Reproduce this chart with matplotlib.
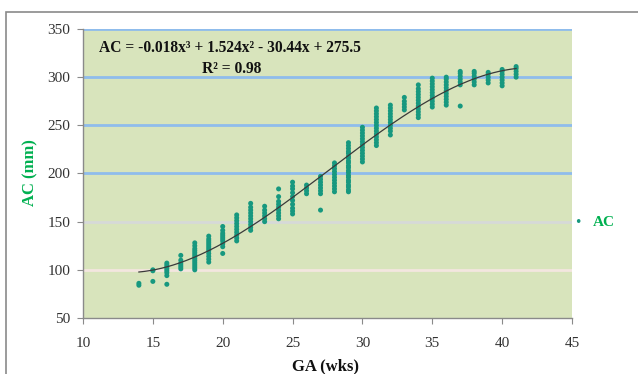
import matplotlib
matplotlib.use("Agg")
import matplotlib.pyplot as plt
from matplotlib.patches import Rectangle
import numpy as np

# ---- data ----
ac_by_week = {
    14: [84, 86],
    15: [88, 99, 100],
    16: [85, 94, 97, 99, 101, 103, 105, 107],
    17: [101, 103, 105, 107, 110, 115],
    18: [100, 102, 104, 106, 108, 110, 112, 114, 116, 118, 120, 122, 125, 128],
    19: [108, 111, 114, 117, 120, 122, 124, 126, 128, 130, 132, 135],
    20: [117, 124, 127, 130, 132, 134, 136, 138, 141, 145],
    21: [130, 133, 136, 139, 142, 145, 148, 151, 154, 157],
    22: [141, 144, 147, 150, 153, 156, 159, 162, 165, 169],
    23: [150, 153, 156, 159, 162, 166],
    24: [153, 156, 159, 162, 165, 168, 171, 176, 184],
    25: [158, 161, 164, 168, 172, 176, 180, 184, 187, 191],
    26: [179, 182, 185, 188],
    27: [162, 179, 182, 185, 188, 191, 194, 197],
    28: [181, 184, 187, 190, 193, 196, 199, 202, 205, 208, 211],
    29: [181, 183, 186, 188, 191, 193, 196, 198, 201, 203, 206, 208, 211,
         213, 216, 218, 221, 223, 226, 229, 232],
    30: [212, 215, 218, 221, 224, 227, 230, 233, 236, 239, 242, 245, 248],
    31: [229, 232, 235, 238, 241, 244, 247, 250, 253, 256, 259, 262, 265, 268],
    32: [240, 244, 247, 250, 253, 256, 259, 262, 265, 268, 271],
    33: [266, 269, 272, 275, 279],
    34: [258, 261, 264, 267, 270, 273, 276, 279, 282, 285, 288, 292],
    35: [269, 272, 275, 278, 281, 284, 287, 290, 293, 296, 299],
    36: [271, 274, 277, 280, 283, 286, 289, 292, 295, 298, 300],
    37: [270, 292, 295, 298, 301, 304, 306],
    38: [292, 295, 298, 301, 304, 306],
    39: [294, 297, 300, 303, 305],
    40: [291, 294, 297, 300, 303, 306, 308],
    41: [300, 303, 306, 309, 311],
}
x_ticks = [10, 15, 20, 25, 30, 35, 40, 45]
y_ticks = [50, 100, 150, 200, 250, 300, 350]
equation = "AC = -0.018x\u00b3 + 1.524x\u00b2 - 30.44x + 275.5"
r2_text = "R\u00b2 = 0.98"
series_name = "AC"
x_label = "GA (wks)"
y_label = "AC (mm)"

ga = np.concatenate([[w] * len(v) for w, v in ac_by_week.items()]).astype(float)
ac = np.concatenate([v for v in ac_by_week.values()]).astype(float)

W, H = 638, 374
fig = plt.figure(figsize=(W / 100, H / 100), dpi=100)
fig.patch.set_facecolor("white")

# outer chart border
fig.add_artist(Rectangle((6 / W, -0.05), 640 / W, 1 - 12 / H + 0.05,
                         transform=fig.transFigure, fill=False,
                         edgecolor="#8a8a8a", linewidth=1.2))

ax = fig.add_axes([83 / W, 1 - 318 / H, (572 - 83) / W, (318 - 29) / H])
ax.set_facecolor("#d8e4bc")
ax.set_xlim(10, 45)
ax.set_ylim(50, 350)

serif = ["Liberation Serif", "DejaVu Serif"]

# gridlines
grid_styles = {100: "#f3e6df", 150: "#d6d9d8", 200: "#8fbcec", 250: "#8fbcec",
               300: "#8fbcec", 350: "#8fbcec"}
for yv, c in grid_styles.items():
    ax.axhline(yv, color=c, linewidth=2.0, zorder=1)

ax.scatter(ga, ac, s=13, color="#17987f", edgecolors="none", zorder=3,
           label=series_name)

coef = np.polyfit(ga, ac, 3)
xs = np.linspace(ga.min(), ga.max(), 200)
ax.plot(xs, np.polyval(coef, xs), color="#3a3a3a", linewidth=0.9, zorder=4)

for s in ["top", "right"]:
    ax.spines[s].set_visible(False)
for s in ["left", "bottom"]:
    ax.spines[s].set_color("#8a8a8a")
    ax.spines[s].set_linewidth(1.0)

ax.set_xticks(x_ticks)
ax.set_yticks(y_ticks)
ax.tick_params(axis="both", direction="out", length=4, color="#8a8a8a",
               labelcolor="#333333", labelsize=11)
ax.tick_params(axis="x", pad=10)
ax.tick_params(axis="y", pad=5)
for lab in ax.get_xticklabels() + ax.get_yticklabels():
    lab.set_fontfamily(serif)

ax.text(0.033, 0.935, equation, transform=ax.transAxes, fontsize=11.2,
        fontweight="bold", family=serif, color="#111111", va="center", ha="left")
ax.text(0.305, 0.862, r2_text, transform=ax.transAxes, fontsize=11.2,
        fontweight="bold", family=serif, color="#111111", va="center", ha="center")

fig.text(30 / W, 1 - 173 / H, y_label, rotation=90, color="#00b050",
         fontsize=12, fontweight="bold", family=serif, ha="center", va="center")
fig.text(326 / W, 1 - 366 / H, x_label, color="#111111",
         fontsize=12, fontweight="bold", family=serif, ha="center", va="center")

# legend
fig.text(578 / W, 1 - 222 / H, "\u2022", color="#17987f", fontsize=9,
         ha="center", va="center")
fig.text(593 / W, 1 - 222 / H, series_name, color="#00b050", fontsize=11,
         fontweight="bold", family=serif, ha="left", va="center")

fig.savefig("out.png", dpi=100)
